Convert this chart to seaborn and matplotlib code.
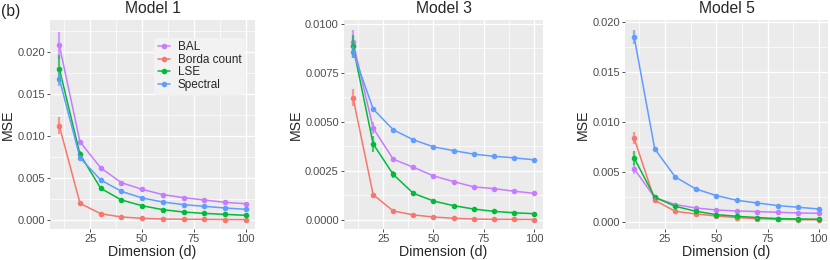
import numpy as np
import pandas as pd
import matplotlib
matplotlib.use("Agg")
import matplotlib.pyplot as plt
import seaborn as sns
from matplotlib.ticker import MultipleLocator

# data
dims = [10, 20, 30, 40, 50, 60, 70, 80, 90, 100]
methods = ["BAL", "Borda count", "LSE", "Spectral"]
colors = {"BAL": "#C77CFF", "Borda count": "#F8766D", "LSE": "#00BA38", "Spectral": "#619CFF"}

m1_bal = [0.0208, 0.0093, 0.0062, 0.00444, 0.00365, 0.00302, 0.00266, 0.00238, 0.0021, 0.00194]
m1_borda = [0.0112, 0.00198, 0.00075, 0.00036, 0.0002, 0.00012, 0.00008, 0.00008, 0.00005, 0.00004]
m1_lse = [0.0180, 0.0078, 0.00377, 0.00238, 0.0017, 0.00123, 0.00095, 0.00079, 0.00067, 0.00056]
m1_spec = [0.0168, 0.0074, 0.00476, 0.00341, 0.00262, 0.00214, 0.00183, 0.00163, 0.00143, 0.00127]
m1_err_bal = [0.0016, 0.0002, 0.00015, 0.0001, 0.0001, 0.00008, 0.00006, 0.00005, 0.00005, 0.00004]
m1_err_borda = [0.001, 0.0002, 0.0001, 0.00005, 0.00003, 0.00002, 0.00001, 0.00001, 0.00001, 0.00001]
m1_err_lse = [0.0016, 0.0004, 0.00015, 0.0001, 0.00008, 0.00005, 0.00004, 0.00003, 0.00003, 0.00002]
m1_err_spec = [0.0008, 0.0003, 0.00012, 0.0001, 0.00008, 0.00006, 0.00005, 0.00004, 0.00004, 0.00003]

m3_bal = [0.00908, 0.00468, 0.0031, 0.00269, 0.00225, 0.00196, 0.00169, 0.0016, 0.00147, 0.00136]
m3_borda = [0.00624, 0.00129, 0.00046, 0.00026, 0.00015, 0.00009, 0.00005, 0.00003, 0.00003, 0.00002]
m3_lse = [0.00886, 0.00388, 0.00232, 0.00136, 0.00097, 0.00073, 0.00056, 0.00044, 0.00037, 0.00032]
m3_spec = [0.00857, 0.00566, 0.0046, 0.00409, 0.00373, 0.00354, 0.00336, 0.00325, 0.00317, 0.00307]
m3_err_bal = [0.0006, 0.0003, 0.0001, 0.00006, 0.00005, 0.00004, 0.00004, 0.00003, 0.00003, 0.00003]
m3_err_borda = [0.00045, 0.0001, 0.00004, 0.00002, 0.00001, 0.00001, 0.00001, 0.00001, 0.00001, 0.00001]
m3_err_lse = [0.0006, 0.0004, 0.0002, 0.00006, 0.00004, 0.00003, 0.00002, 0.00002, 0.00002, 0.00002]
m3_err_spec = [0.0003, 0.0001, 0.00005, 0.00004, 0.00003, 0.00003, 0.00003, 0.00003, 0.00003, 0.00003]

m5_bal = [0.00533, 0.00247, 0.00177, 0.00143, 0.00123, 0.00113, 0.00107, 0.001, 0.00093, 0.0009]
m5_borda = [0.00837, 0.0022, 0.0011, 0.00083, 0.00063, 0.00047, 0.00037, 0.0003, 0.00027, 0.00027]
m5_lse = [0.0064, 0.0025, 0.0016, 0.0011, 0.00077, 0.0006, 0.00047, 0.00037, 0.00033, 0.0003]
m5_spec = [0.01847, 0.00733, 0.00453, 0.00333, 0.00267, 0.0022, 0.00193, 0.00167, 0.0015, 0.00133]
m5_err_bal = [0.0005, 0.0001, 0.00005, 0.00004, 0.00003, 0.00003, 0.00003, 0.00003, 0.00002, 0.00002]
m5_err_borda = [0.0006, 0.0001, 0.00005, 0.00004, 0.00003, 0.00002, 0.00002, 0.00002, 0.00002, 0.00002]
m5_err_lse = [0.0007, 0.0001, 0.00005, 0.00004, 0.00003, 0.00002, 0.00002, 0.00002, 0.00002, 0.00002]
m5_err_spec = [0.0007, 0.0002, 0.0001, 0.00006, 0.00005, 0.00004, 0.00004, 0.00003, 0.00003, 0.00003]

panels = [
    ("Model 1", [m1_bal, m1_borda, m1_lse, m1_spec], [m1_err_bal, m1_err_borda, m1_err_lse, m1_err_spec],
     (-0.00107, 0.0238), [0, 0.005, 0.01, 0.015, 0.02], "{:.3f}"),
    ("Model 3", [m3_bal, m3_borda, m3_lse, m3_spec], [m3_err_bal, m3_err_borda, m3_err_lse, m3_err_spec],
     (-0.00046, 0.0102), [0, 0.0025, 0.005, 0.0075, 0.01], "{:.4f}"),
    ("Model 5", [m5_bal, m5_borda, m5_lse, m5_spec], [m5_err_bal, m5_err_borda, m5_err_lse, m5_err_spec],
     (-0.00067, 0.0202), [0, 0.005, 0.01, 0.015, 0.02], "{:.3f}"),
]

sns.set_theme(style="darkgrid", rc={
    "axes.facecolor": "#EBEBEB",
    "grid.color": "white",
    "axes.edgecolor": "#EBEBEB",
})
plt.rcParams["font.family"] = ["Liberation Sans", "DejaVu Sans"]

W, H = 830, 260
fig = plt.figure(figsize=(W / 100, H / 100), dpi=100)
boxes = [(50, 255), (344, 543), (625, 828)]
ylab_x = [12, 300, 587]
top, bottom = 20, 229

for i, (title, series, errs, ylim, yticks, fmt) in enumerate(panels):
    x0, x1 = boxes[i]
    ax = fig.add_axes([x0 / W, 1 - bottom / H, (x1 - x0) / W, (bottom - top) / H])
    rows = []
    for m, vals, e in zip(methods, series, errs):
        for d, v, ee in zip(dims, vals, e):
            rows.append({"Dimension": d, "MSE": v, "err": ee, "Method": m})
    df = pd.DataFrame(rows)
    sns.lineplot(data=df, x="Dimension", y="MSE", hue="Method", palette=colors,
                 marker="o", markersize=4, markeredgewidth=0, linewidth=1.1,
                 errorbar=None, ax=ax, legend=(i == 0))
    for m in methods:
        sub = df[df["Method"] == m]
        ax.vlines(sub["Dimension"], sub["MSE"] - sub["err"], sub["MSE"] + sub["err"],
                  color=colors[m], linewidth=1.6, alpha=0.7)
    ax.set_xlim(5.5, 104.5)
    ax.set_ylim(*ylim)
    ax.set_xticks([25, 50, 75, 100])
    ax.xaxis.set_minor_locator(MultipleLocator(12.5))
    ax.set_yticks(yticks)
    ax.set_yticklabels([fmt.format(t) for t in yticks])
    ax.yaxis.set_minor_locator(MultipleLocator((yticks[1] - yticks[0]) / 2))
    ax.grid(which="major", color="white", linewidth=1.0)
    ax.grid(which="minor", color="white", linewidth=0.5)
    ax.tick_params(axis="both", which="major", labelsize=8, labelcolor="#4D4D4D",
                   length=2.5, color="#333333", width=0.6, pad=1.2, bottom=True, left=True)
    ax.tick_params(axis="both", which="minor", length=0)
    ax.set_xlabel("Dimension (d)", fontsize=10.2)
    ax.set_ylabel("MSE", fontsize=10.2)
    ax.xaxis.set_label_coords(0.5, (bottom - 255.7) / (bottom - top))
    ax.xaxis.label.set_verticalalignment("baseline")
    ax.yaxis.set_label_coords((ylab_x[i] - x0) / (x1 - x0), 0.5)
    ax.yaxis.label.set_verticalalignment("baseline")
    ax.text(0.5, (bottom - 13.3) / (bottom - top), title, transform=ax.transAxes,
            ha="center", va="baseline", fontsize=11.3)
    for s in ax.spines.values():
        s.set_visible(False)
    if i == 0:
        leg = ax.legend(title=None, loc="upper right", bbox_to_anchor=(0.952, 0.915),
                        frameon=True, fontsize=8.5, handlelength=1.0, handletextpad=0.7,
                        labelspacing=0.05, borderpad=0.3, borderaxespad=0)
        leg.get_frame().set_facecolor("#F2F2F2")
        leg.get_frame().set_edgecolor("none")
        leg.get_frame().set_alpha(1)

fig.text(1 / W, 1 - 16 / H, "(b)", fontsize=11.3, va="baseline", ha="left")
fig.savefig("out.png", dpi=100)
